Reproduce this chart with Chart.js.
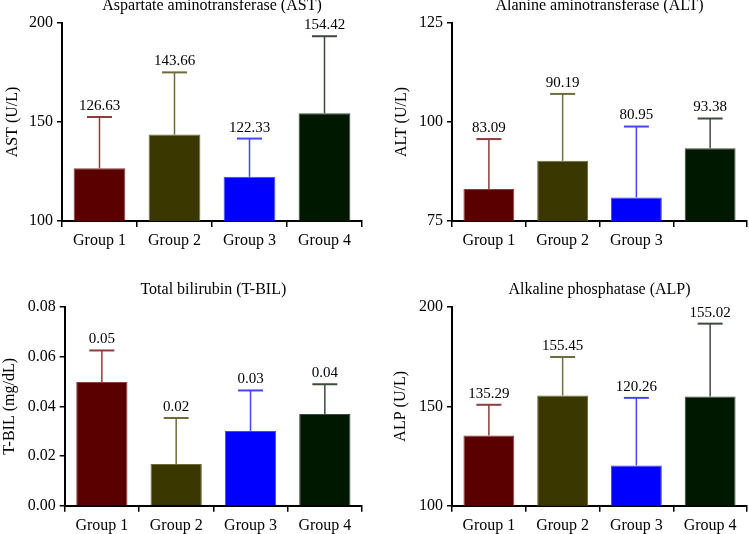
<!DOCTYPE html>
<html>
<head>
<meta charset="utf-8">
<script src="https://cdn.jsdelivr.net/npm/chart.js@4/dist/chart.umd.min.js"></script>
<style>
  body { margin: 0; background: #fff; }
  #wrap { position: relative; width: 749px; height: 534px; overflow: hidden; background: #fff; }
  canvas { position: absolute; }
</style>
</head>
<body>
<div id="wrap">
  <canvas id="ast"></canvas>
  <canvas id="alt"></canvas>
  <canvas id="tbil"></canvas>
  <canvas id="alp"></canvas>
</div>
<script>
// data (mean + SD per group)
const groups = ['Group 1', 'Group 2', 'Group 3', 'Group 4'];
const altGroups = ['Group 1', 'Group 2', 'Group 3', ''];   // 4th label is missing in the original

const astMean = [126.63, 143.66, 122.33, 154.42];
const astSD = [25.9, 31.4, 19.3, 38.9];
const astTicks = [100, 150, 200];

const altMean = [83.09, 90.19, 80.95, 93.38];
const altSD = [12.6, 16.9, 17.9, 7.5];
const altTicks = [75, 100, 125];

const tbilMean = [0.0498, 0.0168, 0.0301, 0.0369];
const tbilSD = [0.0127, 0.0185, 0.0163, 0.0120];
const tbilTicks = [0.00, 0.02, 0.04, 0.06, 0.08];

const alpMean = [135.29, 155.45, 120.26, 155.02];
const alpSD = [15.5, 19.4, 34.0, 36.6];
const alpTicks = [100, 150, 200];

const barColors = ['#5a0000', '#3a3800', '#0000ff', '#001800'];
const errColors = ['#8e3c3c', '#6e6c3c', '#4444ff', '#3c4c3c'];

const FONT = "'Liberation Serif', 'Times New Roman', serif";

// error bars + value labels on top
const errorBarPlugin = {
  id: 'errorBars',
  afterDatasetsDraw(chart) {
    const ctx = chart.ctx;
    const yScale = chart.scales.y;
    const ds = chart.data.datasets[0];
    const meta = chart.getDatasetMeta(0);
    ctx.save();
    meta.data.forEach((bar, i) => {
      const top = yScale.getPixelForValue(ds.data[i] + ds.sd[i]);
      ctx.strokeStyle = errColors[i];
      ctx.lineWidth = 1.5;
      ctx.beginPath();
      ctx.moveTo(bar.x, bar.y);
      ctx.lineTo(bar.x, top);
      ctx.stroke();
      ctx.lineWidth = 2;
      ctx.beginPath();
      ctx.moveTo(bar.x - 12.5, top);
      ctx.lineTo(bar.x + 12.5, top);
      ctx.stroke();

      ctx.fillStyle = '#000';
      ctx.font = '15px ' + FONT;
      ctx.textAlign = 'center';
      ctx.textBaseline = 'middle';
      ctx.fillText(ds.data[i].toFixed(2), bar.x, top - 11);
    });
    ctx.restore();
  }
};

function makePanel(id, p) {
  const cv = document.getElementById(id);
  cv.style.left = p.left + 'px';
  cv.style.top = p.top + 'px';
  cv.width = p.width;
  cv.height = p.height;

  new Chart(cv, {
    type: 'bar',
    data: {
      labels: p.labels,
      datasets: [{
        data: p.mean,
        sd: p.sd,
        backgroundColor: barColors,
        borderColor: errColors,
        borderWidth: 1,
        barPercentage: 0.69,
        categoryPercentage: 1
      }]
    },
    options: {
      responsive: false,
      animation: false,
      devicePixelRatio: 1,
      layout: { padding: { left: 0, right: p.padRight, top: 0, bottom: 0 } },
      plugins: {
        legend: { display: false },
        tooltip: { enabled: false },
        title: {
          display: true,
          text: p.title,
          fullSize: false,
          color: '#000',
          font: { family: FONT, size: 16, weight: 'normal' },
          padding: { top: 6.4, bottom: 7.4 }
        }
      },
      scales: {
        x: {
          grid: { drawOnChartArea: false, drawTicks: true, tickLength: 6, color: '#000', lineWidth: 1.5 },
          border: { color: '#000', width: 2 },
          ticks: { color: '#000', padding: 4, font: { family: FONT, size: 16 }, maxRotation: 0 },
          afterFit(scale) { scale.height = p.xHeight; }
        },
        y: {
          min: p.ticks[0],
          max: p.ticks[p.ticks.length - 1],
          afterBuildTicks(scale) { scale.ticks = p.ticks.map(v => ({ value: v })); },
          grid: { drawOnChartArea: false, drawTicks: true, tickLength: 5, color: '#000', lineWidth: 1.5 },
          border: { color: '#000', width: 2 },
          ticks: {
            color: '#000',
            padding: 4,
            font: { family: FONT, size: 16 },
            callback: v => p.fmt(v)
          },
          title: {
            display: true,
            text: p.yTitle,
            color: '#000',
            font: { family: FONT, size: 16 },
            padding: { top: p.yTitlePad, bottom: 0 }
          },
          afterFit(scale) { scale.width = p.yWidth; }
        }
      }
    },
    plugins: [errorBarPlugin]
  });
}

const intFmt = v => String(v);

makePanel('ast', {
  left: 0, top: -10, width: 375, height: 267,
  labels: groups, mean: astMean, sd: astSD, ticks: astTicks, fmt: intFmt,
  title: 'Aspartate aminotransferase (AST)', yTitle: 'AST (U/L)',
  yWidth: 62, yTitlePad: 3.4, padRight: 13, xHeight: 36
});

makePanel('alt', {
  left: 375, top: -10, width: 374, height: 267,
  labels: altGroups, mean: altMean, sd: altSD, ticks: altTicks, fmt: intFmt,
  title: 'Alanine aminotransferase (ALT)', yTitle: 'ALT (U/L)',
  yWidth: 77, yTitlePad: 17.1, padRight: 2, xHeight: 36
});

makePanel('tbil', {
  left: 0, top: 274, width: 375, height: 260,
  labels: groups, mean: tbilMean, sd: tbilSD, ticks: tbilTicks, fmt: v => v.toFixed(2),
  title: 'Total bilirubin (T-BIL)', yTitle: 'T-BIL (mg/dL)',
  yWidth: 64.7, yTitlePad: 0, padRight: 13, xHeight: 28.3
});

makePanel('alp', {
  left: 375, top: 274, width: 374, height: 260,
  labels: groups, mean: alpMean, sd: alpSD, ticks: alpTicks, fmt: intFmt,
  title: 'Alkaline phosphatase (ALP)', yTitle: 'ALP (U/L)',
  yWidth: 77, yTitlePad: 16.4, padRight: 2, xHeight: 28.3
});
</script>
</body>
</html>
